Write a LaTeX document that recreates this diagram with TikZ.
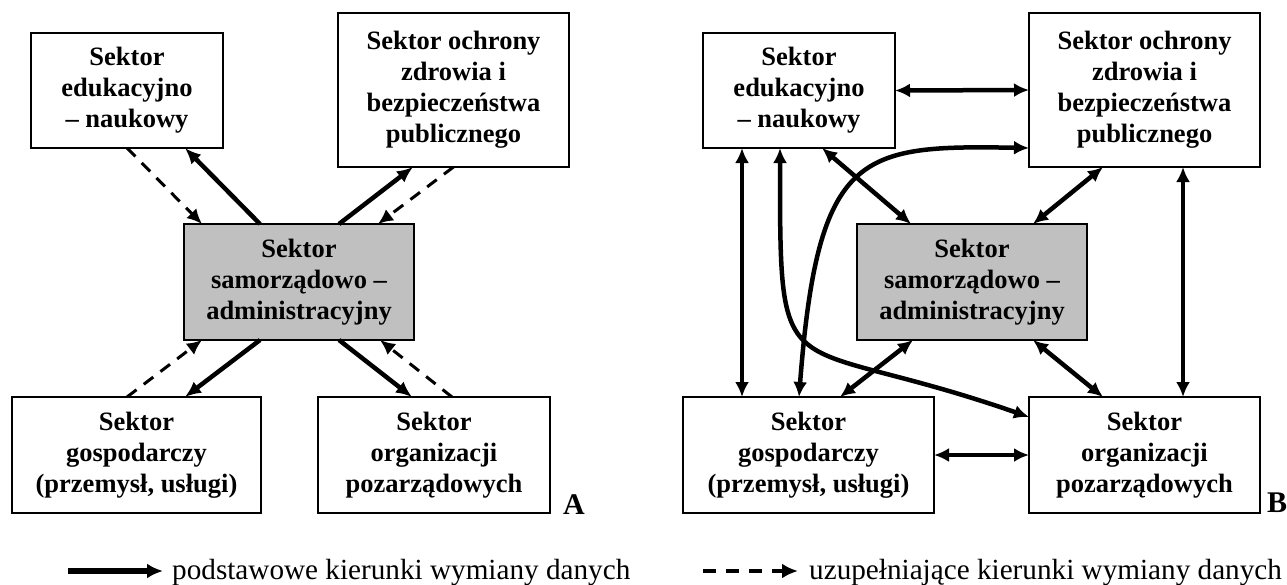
\documentclass[tikz,border=0pt]{standalone}
\usepackage{fontspec}
\setmainfont{Liberation Serif}
\usetikzlibrary{arrows.meta}
\definecolor{szary}{RGB}{192,192,192}

\begin{document}
\begin{tikzpicture}[x=1pt,y=-1pt,
 sektor/.style={draw, line width=2.5pt, align=center, inner sep=0pt, outer sep=0pt,
   font=\bfseries\fontsize{26.5}{31}\selectfont},
 glowny/.style={sektor, fill=szary},
 pelna/.style={line width=4.5pt, -{Latex[length=16pt,width=14pt]}},
 przer/.style={line width=3pt, dash pattern=on 12pt off 9pt, -{Latex[length=15pt,width=14pt]}},
 obie/.style={line width=4.5pt, {Latex[length=15pt,width=14pt]}-{Latex[length=15pt,width=14pt]}},
 opis/.style={anchor=base west, font=\fontsize{29.2}{34}\selectfont}]
\useasboundingbox (0,0) rectangle (1287,584);

% panel A
\node[sektor, minimum width=192pt, minimum height=115pt] (eduA) at (127,90.5) {Sektor\\edukacyjno\\– naukowy};
\node[sektor, minimum width=231pt, minimum height=154pt] (zdrA) at (453.5,90) {Sektor ochrony\\zdrowia i\\bezpieczeństwa\\publicznego};
\node[glowny, minimum width=230pt, minimum height=116pt] (samA) at (299,282) {Sektor\\samorządowo –\\administracyjny};
\node[sektor, minimum width=249pt, minimum height=116pt] (gospA) at (136.5,455) {Sektor\\gospodarczy\\(przemysł, usługi)};
\node[sektor, minimum width=232pt, minimum height=116pt] (ngoA) at (434,455) {Sektor\\organizacji\\pozarządowych};
\node[anchor=base west, font=\bfseries\fontsize{30}{34}\selectfont, inner sep=0pt] (litA) at (563,514) {A};

\draw[przer] (eduA.south) -- ([xshift=-97pt]samA.north);
\draw[pelna] ([xshift=-39pt]samA.north) -- ([xshift=58pt]eduA.south);
\draw[pelna] ([xshift=40pt]samA.north) -- ([xshift=-40.5pt]zdrA.south);
\draw[przer] (zdrA.south) -- ([xshift=79pt]samA.north);
\draw[przer] ([xshift=-9.5pt]gospA.north) -- ([xshift=-97pt]samA.south);
\draw[pelna] ([xshift=-39pt]samA.south) -- ([xshift=48.5pt]gospA.north);
\draw[pelna] ([xshift=40pt]samA.south) -- ([xshift=-22pt]ngoA.north);
\draw[przer] ([xshift=18pt]ngoA.north) -- ([xshift=81pt]samA.south);

% panel B
\node[sektor, minimum width=192pt, minimum height=115pt] (eduB) at (799,90.5) {Sektor\\edukacyjno\\– naukowy};
\node[sektor, minimum width=231pt, minimum height=154pt] (zdrB) at (1144.5,90) {Sektor ochrony\\zdrowia i\\bezpieczeństwa\\publicznego};
\node[glowny, minimum width=230pt, minimum height=116pt] (samB) at (972,282) {Sektor\\samorządowo –\\administracyjny};
\node[sektor, minimum width=251pt, minimum height=116pt] (gospB) at (808.5,455) {Sektor\\gospodarczy\\(przemysł, usługi)};
\node[sektor, minimum width=231pt, minimum height=116pt] (ngoB) at (1144.5,455) {Sektor\\organizacji\\pozarządowych};
\node[anchor=base west, font=\bfseries\fontsize{30}{34}\selectfont, inner sep=0pt] (litB) at (1267,512) {B};

\draw[obie] (eduB.east) -- (zdrB.west);
\draw[obie] (gospB.east) -- (ngoB.west);
\draw[obie] ([xshift=-57pt]eduB.south) -- ([xshift=-66.5pt]gospB.north);
\draw[obie] ([xshift=38.5pt]zdrB.south) -- ([xshift=38.5pt]ngoB.north);
\draw[obie] ([xshift=23pt]eduB.south) -- ([xshift=-61pt]samB.north);
\draw[obie] ([xshift=-41.5pt]zdrB.south) -- ([xshift=61pt]samB.north);
\draw[obie] ([xshift=-59pt]samB.south) -- ([xshift=31.5pt]gospB.north);
\draw[obie] ([xshift=61pt]samB.south) -- ([xshift=-41.5pt]ngoB.north);
\draw[obie] ([xshift=-19pt]eduB.south) .. controls (780,400) and (779,330) .. ([yshift=38pt]ngoB.west);
\draw[obie] ([xshift=-9.5pt]gospB.north) .. controls (818,150) and (860,145) .. ([yshift=-58pt]zdrB.west);

% legenda
\coordinate (l1) at (68,571);
\coordinate (k1) at (163,571);
\coordinate (l2) at (703,571);
\coordinate (k2) at (798,571);
\node[opis, inner sep=0pt] (t1) at (172,579) {podstawowe kierunki wymiany danych};
\node[opis, inner sep=0pt] (t2) at (809,579) {uzupełniające kierunki wymiany danych};
\draw[line width=6pt, -{Latex[length=16pt,width=15pt]}] (l1) -- (k1);
\draw[line width=4pt, dash pattern=on 13pt off 10pt, -{Latex[length=16pt,width=15pt]}] (l2) -- (k2);
\end{tikzpicture}
\end{document}
